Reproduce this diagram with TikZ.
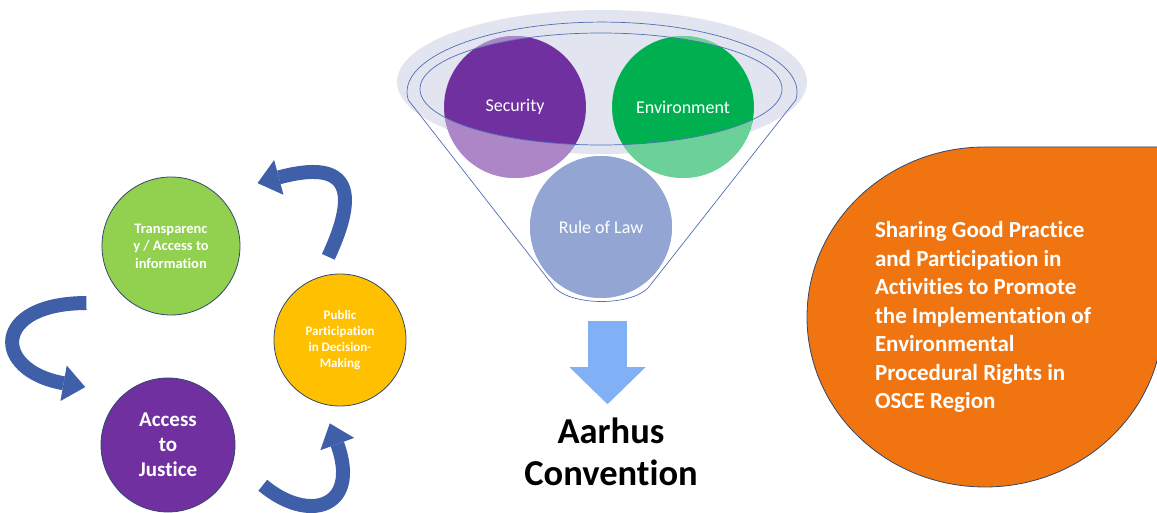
\documentclass[tikz,border=0pt]{standalone}
\usepackage{fontspec}
\setmainfont{Carlito}[Ligatures=NoCommon]
\usetikzlibrary{arrows.meta,calc}

\definecolor{leafgreen}{RGB}{146,208,80}
\definecolor{sunyellow}{RGB}{255,192,0}
\definecolor{deeppurple}{RGB}{112,48,160}
\definecolor{deepgreen}{RGB}{0,176,80}
\definecolor{lawblue}{RGB}{68,100,180}
\definecolor{droporange}{RGB}{240,117,16}
\definecolor{cycleblue}{RGB}{63,96,168}
\definecolor{skyblue}{RGB}{128,176,245}
\definecolor{glassgray}{RGB}{226,229,240}
\definecolor{rimblue}{RGB}{80,110,180}
\definecolor{ringgray}{RGB}{50,70,110}

\begin{document}
\begin{tikzpicture}[x=1pt,y=1pt,
    ball/.style={circle,inner sep=0pt,text=white,align=center},
    cycball/.style={ball,draw=ringgray,line width=0.8pt},
    potball/.style={ball,minimum size=142pt,font=\fontsize{18}{22}\selectfont},
    cyc/.style={line width=14pt,draw=cycleblue,
                -{Triangle[width=36pt,length=22pt,line width=0pt]}},
    rim/.style={draw=rimblue,line width=0.7pt},
    fadewhite/.style={fill=white,fill opacity=0.42}]

  \useasboundingbox (0,0) rectangle (1157,512);

  % funnel glass
  \fill[glassgray] (602,430) ellipse [x radius=205, y radius=72];

  \node[potball,fill=deeppurple] (sec) at (515,405) {Security};
  \node[potball,fill=deepgreen]  (env) at (683,405) {Environment};
  \node[potball,fill=lawblue]    (law) at (601,285) {Rule of Law};

  \foreach \c in {sec,env} {
    \begin{scope}
      \clip (\c) circle (71pt);
      \fill[fadewhite,even odd rule] (\c) circle (71pt)
           (601,423) ellipse [x radius=181, y radius=56];
    \end{scope}
  }
  \fill[fadewhite] (law) circle (71pt);

  \draw[rim] (555,224) -- (408.3,412)
        arc[start angle=186.5, end angle=-6.5, x radius=195, y radius=70]
        -- (648,224) .. controls (630,206) and (573,206) .. cycle;
  \draw[rim] (601,423) ellipse [x radius=181, y radius=56];

  % down arrow and result
  \draw[line width=39pt,draw=skyblue,
        -{Triangle[width=76pt,length=37pt,line width=0pt]}]
       ($(law.south)+(6.5,-23)$) -- ++(0,-83);
  \node[align=center,font=\bfseries\fontsize{36.5}{42}\selectfont]
       (aarhus) at (611,60) {Aarhus\\Convention};

  % cycle of rights
  \node[cycball,fill=leafgreen,minimum size=138pt,
        font=\bfseries\fontsize{14.5}{17.5}\selectfont]
       (trans) at (171,266) {Transparenc\\y / Access to\\information};
  \node[cycball,fill=sunyellow,minimum size=132pt,
        font=\bfseries\fontsize{13}{16}\selectfont]
       (pub) at (340,172) {Public\\Participation\\in Decision-\\Making};
  \node[cycball,fill=deeppurple,minimum size=134pt,
        font=\bfseries\fontsize{21}{25}\selectfont]
       (just) at (168,67) {Access\\to\\Justice};

  \coordinate (p1) at ($(pub)+(98:84)$);
  \coordinate (t1) at ($(trans)+(36:107)$);
  \coordinate (t2) at ($(trans)+(214:102)$);
  \coordinate (j1) at ($(just)+(145:101)$);
  \coordinate (j2) at ($(just)+(337:103)$);
  \coordinate (p2) at ($(pub)+(263:84)$);

  \draw[cyc] (p1) .. controls +(65:90) and +(15:80) .. (t1);
  \draw[cyc] (t2) .. controls +(180:95) and +(170:95) .. (j1);
  \draw[cyc] (j2) .. controls +(-40:60) and +(-70:90) .. (p2);

  % teardrop
  \draw[fill=droporange,draw=ringgray,line width=0.8pt]
       (807,195) arc[start angle=180, end angle=90, x radius=178, y radius=170]
       -- (1163,365) -- (1163,195)
       arc[start angle=0, end angle=-180, x radius=178, y radius=170] -- cycle;
  \node[text=white,align=left,font=\bfseries\fontsize{23}{28.5}\selectfont]
       (share) at (983,195) {Sharing Good Practice\\and Participation in\\
       Activities to Promote\\the Implementation of\\Environmental\\
       Procedural Rights in\\OSCE Region};
\end{tikzpicture}
\end{document}
